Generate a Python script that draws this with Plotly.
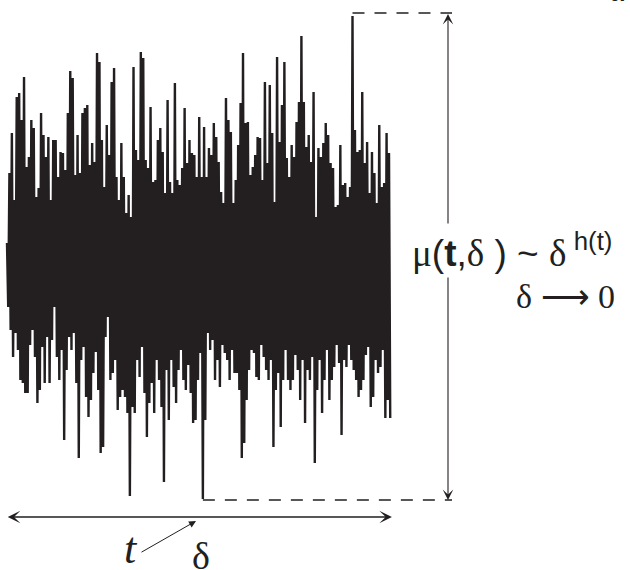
import plotly.graph_objects as go

# ---- data: signal extremes (amplitude units, 0 = signal centre) ----
upper_peaks = [
    27, 97, 137, 70, 173, 177, 150, 193, 103, 113, 150, 142, 73, 82, 157, 135, 113, 133, 70, 130,
    130, 93, 118, 117, 100, 157, 199, 192, 95, 135, 97, 157, 162, 165, 105, 127, 108, 217, 208, 130,
    83, 145, 115, 188, 202, 93, 70, 127, 93, 57, 75, 53, 203, 120, 110, 218, 212, 110, 102, 163,
    88, 90, 130, 142, 118, 77, 170, 88, 77, 187, 90, 85, 102, 162, 107, 130, 117, 115, 93, 153,
    93, 143, 93, 122, 115, 147, 133, 108, 78, 67, 172, 150, 138, 67, 90, 125, 167, 217, 147, 148,
    95, 103, 115, 133, 132, 90, 188, 107, 185, 137, 68, 213, 128, 165, 208, 112, 93, 125, 113, 148,
    168, 234, 168, 123, 135, 108, 178, 53, 122, 113, 127, 147, 135, 107, 102, 63, 65, 125, 85, 87,
    73, 83, 254, 140, 118, 120, 178, 107, 128, 77, 118, 97, 67, 145, 83, 87, 137, 117,
]
lower_troughs = [
    -37, -60, -87, -63, -80, -110, -113, -123, -123, -75, -60, -87, -133, -120, -77, -113, -67, -113, -70, -37,
    -87, -110, -80, -170, -100, -67, -80, -63, -113, -188, -90, -77, -127, -147, -130, -103, -82, -120, -183, -177,
    -67, -47, -110, -103, -90, -140, -127, -120, -127, -143, -226, -137, -143, -90, -107, -77, -123, -167, -133, -113,
    -143, -90, -110, -137, -212, -100, -150, -90, -117, -133, -100, -80, -110, -120, -95, -123, -153, -150, -110, -83,
    -229, -150, -63, -80, -70, -110, -90, -117, -75, -83, -90, -110, -80, -103, -103, -120, -188, -173, -130, -100,
    -80, -83, -107, -110, -75, -87, -100, -110, -90, -177, -120, -103, -157, -110, -80, -110, -120, -110, -85, -100,
    -130, -90, -153, -100, -110, -87, -193, -120, -90, -143, -110, -80, -130, -110, -97, -75, -93, -165, -90, -97,
    -75, -90, -100, -110, -127, -120, -110, -85, -77, -137, -127, -90, -103, -97, -80, -148, -130, -148,
]

INK = "#231f20"
W, H = 630, 570

# zig-zag trace: each sample goes to its upper extreme, then to its lower extreme
t_vals, s_vals = [], []
for i, (hi, lo) in enumerate(zip(upper_peaks, lower_troughs)):
    t_vals += [i, i + 0.5]
    s_vals += [hi, lo]

n = len(upper_peaks)
# axis ranges (layout)
unit = 382 / (n - 1)
X0 = -7 / unit
X1 = X0 + W / unit
Y1, Y0 = 270, -300


def xd(p):
    return X0 + p * (X1 - X0) / W


def yd(p):
    return Y1 - p * (Y1 - Y0) / H


fig = go.Figure()
fig.add_trace(go.Scatter(x=t_vals, y=s_vals, mode="lines",
                         line=dict(color=INK, width=2.4), hoverinfo="skip", showlegend=False))

top_val = max(upper_peaks)
bot_val = min(lower_troughs)
top_i = upper_peaks.index(top_val)
bot_i = lower_troughs.index(bot_val) + 0.5
arrow_x = xd(448)

shapes = [
    dict(type="line", xref="x", yref="y", x0=top_i, x1=xd(452), y0=top_val + 3, y1=top_val + 3,
         line=dict(color=INK, width=1.4, dash="12px,10px")),
    dict(type="line", xref="x", yref="y", x0=bot_i, x1=xd(452), y0=bot_val - 1, y1=bot_val - 1,
         line=dict(color=INK, width=1.4, dash="12px,10px")),
]

serif = "Liberation Serif"
ann = []
# vertical double arrow, broken by the formula
ann.append(dict(x=arrow_x, y=top_val + 2, ax=arrow_x, ay=yd(225), xref="x", yref="y", axref="x", ayref="y",
                text="", showarrow=True, arrowhead=3, arrowsize=1.6, arrowwidth=1.1, arrowcolor=INK, standoff=0))
ann.append(dict(x=arrow_x, y=bot_val - 1, ax=arrow_x, ay=yd(276), xref="x", yref="y", axref="x", ayref="y",
                text="", showarrow=True, arrowhead=3, arrowside="end", arrowsize=1.6, arrowwidth=1.1,
                arrowcolor=INK, standoff=0))
# horizontal double arrow under the signal
ann.append(dict(x=n - 1 + 1.2, y=yd(517), ax=-0.3, ay=yd(517), xref="x", yref="y", axref="x", ayref="y",
                text="", showarrow=True, arrowhead=3, arrowside="end+start", arrowsize=1.5, arrowwidth=1.4,
                arrowcolor=INK, standoff=0))
# small arrow from t toward delta
ann.append(dict(x=xd(196), y=yd(521), ax=xd(140), ay=yd(553), xref="x", yref="y", axref="x", ayref="y",
                text="", showarrow=True, arrowhead=2, arrowsize=1.4, arrowwidth=1.0, arrowcolor=INK, standoff=0))

ann.append(dict(x=xd(410), y=yd(250), xref="x", yref="y", xanchor="left", yanchor="middle", showarrow=False,
                bgcolor="white",
                text=(f'<span style="font-family:{serif}">μ</span>(<b>t</b>,'
                      f'<span style="font-family:{serif}">δ</span> ) ~ '
                      f'<span style="font-family:{serif}">δ</span><sup> h(t)</sup>'),
                font=dict(family="Liberation Sans", size=37, color=INK)))
ann.append(dict(x=xd(514), y=yd(296), xref="x", yref="y", xanchor="left", yanchor="middle", showarrow=False,
                text="δ ⟶ 0", font=dict(family=serif, size=34, color=INK)))
ann.append(dict(x=xd(131), y=yd(548), xref="x", yref="y", xanchor="center", yanchor="middle", showarrow=False,
                text="<i>t</i>", font=dict(family=serif, size=44, color=INK)))
ann.append(dict(x=xd(201), y=yd(556), xref="x", yref="y", xanchor="center", yanchor="middle", showarrow=False,
                text="δ", font=dict(family=serif, size=38, color=INK)))
ann.append(dict(x=xd(617), y=yd(9), xref="x", yref="y", xanchor="center", yanchor="bottom", showarrow=False,
                text="α", font=dict(family=serif, size=30, color=INK)))

fig.update_layout(
    width=W, height=H, margin=dict(l=0, r=0, t=0, b=0),
    paper_bgcolor="white", plot_bgcolor="white",
    xaxis=dict(range=[X0, X1], visible=False, fixedrange=True),
    yaxis=dict(range=[Y0, Y1], visible=False, fixedrange=True),
    shapes=shapes, annotations=ann, showlegend=False,
)
fig.write_html("out.html")
